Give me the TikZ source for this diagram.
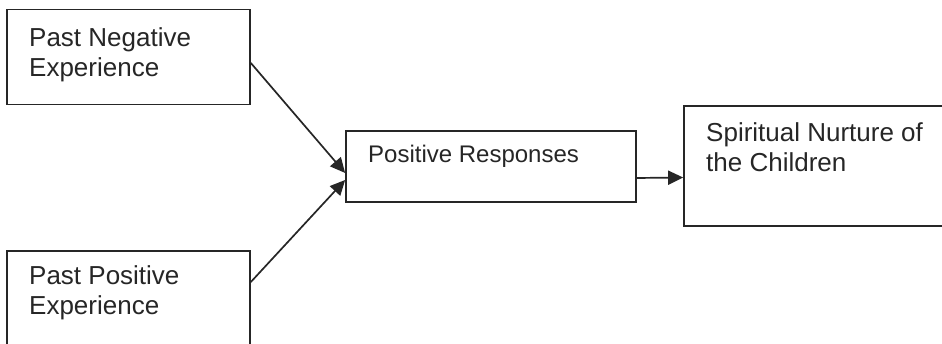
\documentclass[tikz,border=0pt]{standalone}
\usepackage{fontspec}
\setmainfont{Liberation Sans}
\usetikzlibrary{arrows.meta}
\definecolor{ink}{HTML}{262626}
\tikzset{
  box/.style={draw=ink, line width=1.7pt, rectangle, inner sep=0pt},
  lbl/.style={anchor=base west, inner sep=0pt, text=ink, font=\fontsize{26}{31}\selectfont},
  lblsmall/.style={anchor=base west, inner sep=0pt, text=ink, font=\fontsize{24}{29}\selectfont},
  conn/.style={draw=ink, line width=1.7pt, -{Triangle[length=15pt,width=14pt]}}
}
\begin{document}
\begin{tikzpicture}[x=1pt,y=1pt]
\clip (0,0) rectangle (942,344);
\useasboundingbox (0,0) rectangle (942,344);
% boxes (coordinates in px, y flipped)
\node[box, minimum width=243pt, minimum height=95pt] (neg) at (128.5,287) {};
\node[box, minimum width=243pt, minimum height=100pt] (pos) at (128.5,43) {};
\node[box, minimum width=290pt, minimum height=71pt] (resp) at (491,177.5) {};
\node[box, minimum width=261pt, minimum height=120pt] (spir) at (814.5,178) {};
% texts
\node[lbl] (negA) at (29,297) {Past Negative};
\node[lbl] (negB) at (29,267) {Experience};
\node[lbl] (posA) at (29,59) {Past Positive};
\node[lbl] (posB) at (29,29) {Experience};
\node[lblsmall] (respA) at (368,181) {Positive Responses};
\node[lbl] (spirA) at (706,202) {Spiritual Nurture of};
\node[lbl] (spirB) at (706,172) {the Children};
% connectors
\draw[conn] ([yshift=-6pt]neg.east) -- ([yshift=-6.5pt]resp.west);
\draw[conn] ([yshift=19pt]pos.east) -- ([yshift=-13.5pt]resp.west);
\draw[conn] ([yshift=-11.5pt]resp.east) -- ([yshift=-11.5pt]spir.west);
\end{tikzpicture}
\end{document}
